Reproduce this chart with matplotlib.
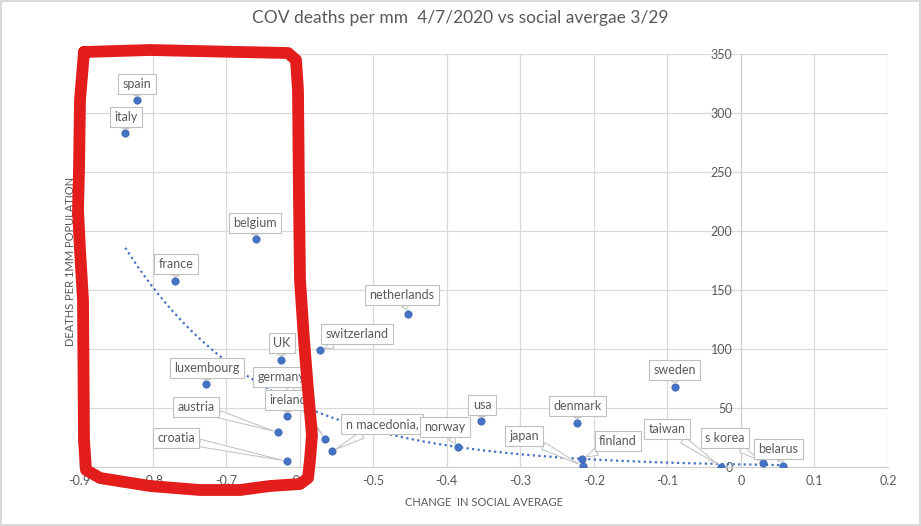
import numpy as np
import matplotlib.pyplot as plt
from matplotlib.lines import Line2D

plt.rcParams['font.family'] = ['Lato', 'DejaVu Sans']

# data
countries = ['spain', 'italy', 'belgium', 'france', 'UK', 'luxembourg', 'germany',
             'ireland', 'austria', 'croatia', 'switzerland', 'netherlands',
             'n macedonia,', 'norway', 'usa', 'denmark', 'japan', 'finland',
             'sweden', 'taiwan', 's korea', 'belarus']
social_change = [-0.821, -0.837, -0.660, -0.769, -0.625, -0.727, -0.565,
                 -0.617, -0.630, -0.617, -0.572, -0.453,
                 -0.556, -0.385, -0.353, -0.223, -0.215, -0.216,
                 -0.089, -0.027, 0.030, 0.057]
deaths_per_mm = [310.8, 282.8, 193.0, 157.6, 90.4, 70.0, 23.5,
                 43.0, 29.4, 4.8, 98.9, 129.9,
                 13.3, 16.9, 38.7, 37.5, 0.8, 6.8,
                 67.5, 0.3, 3.6, 0.6]

# exponential trendline y = a*exp(b*x), coefficients
trend_a = 2.2
trend_b = -5.3

# where each callout box sits (data coords)
label_pos = {
    'spain': (-0.821, 324.6), 'italy': (-0.836, 296.6), 'belgium': (-0.661, 206.8),
    'france': (-0.768, 172), 'UK': (-0.624, 105), 'luxembourg': (-0.726, 83.9),
    'germany': (-0.625, 76.3), 'ireland': (-0.616, 56.8), 'austria': (-0.741, 50.8),
    'croatia': (-0.768, 24.6), 'switzerland': (-0.522, 112.7),
    'netherlands': (-0.461, 145.8), 'n macedonia,': (-0.488, 36.4),
    'norway': (-0.403, 33.9), 'usa': (-0.352, 52.5), 'denmark': (-0.222, 51.7),
    'japan': (-0.295, 26.3), 'finland': (-0.167, 22), 'sweden': (-0.090, 82.2),
    'taiwan': (-0.100, 32.2), 's korea': (-0.022, 24.6), 'belarus': (0.051, 15.3),
}

W, H = 921, 526
fig = plt.figure(figsize=(W / 100, H / 100), dpi=100)
fig.patch.set_edgecolor('#d9d9d9')
fig.patch.set_linewidth(1.5)
ax = fig.add_axes([79 / W, 1 - 467 / H, (888 - 79) / W, (467 - 54) / H])

gray = '#595959'
ax.set_xlim(-0.9, 0.2)
ax.set_ylim(0, 350)
ax.set_xticks(np.arange(-0.9, 0.21, 0.1))
ax.set_xticklabels(['-0.9', '-0.8', '-0.7', '-0.6', '-0.5', '-0.4', '-0.3', '-0.2',
                    '-0.1', '0', '0.1', '0.2'])
ax.set_yticks(range(0, 351, 50))
ax.grid(True, color='#d9d9d9', lw=0.9)
ax.set_axisbelow(True)
for s in ['top', 'right']:
    ax.spines[s].set_visible(False)
ax.spines['left'].set_position(('data', 0))
ax.spines['left'].set_color('#d0d0d0')
ax.spines['bottom'].set_color('#d0d0d0')
ax.tick_params(length=0, labelsize=9, labelcolor=gray, pad=6)

xs = np.array(social_change)
xt = np.linspace(xs.min(), xs.max(), 200)
ax.plot(xt, trend_a * np.exp(trend_b * xt), ls=(0, (1, 1.5)), color='#4472c4', lw=1.6)

ax.scatter(social_change, deaths_per_mm, s=28, color='#4472c4', edgecolor='#3a64b0',
           lw=0.5, zorder=3)

for name, x, y in zip(countries, social_change, deaths_per_mm):
    lx, ly = label_pos[name]
    ax.annotate(name, xy=(x, y), xytext=(lx, ly), ha='center', va='center',
                fontsize=9, color=gray, zorder=4,
                bbox=dict(boxstyle='square,pad=0.35', fc='white', ec='#bfbfbf', lw=0.8),
                arrowprops=dict(arrowstyle='wedge,tail_width=0.6,shrink_factor=0.5',
                                fc='white', ec='#bfbfbf', lw=0.7, shrinkA=0, shrinkB=3))

fig.text(460 / W, 1 - 18 / H, 'COV deaths per mm  4/7/2020 vs social avergae 3/29',
         ha='center', va='center', fontsize=12.5, color=gray)
fig.text(484 / W, 1 - 503 / H, 'CHANGE  IN SOCIAL AVERAGE', ha='center', va='center',
         fontsize=8, color=gray)
fig.text(70 / W, 1 - 261 / H, 'DEATHS PER 1MM POPULATION', ha='center', va='center',
         rotation=90, fontsize=8, color=gray)

# red hand-drawn outline on top of the chart
px = [84, 150, 240, 288, 296, 298, 299, 300, 304, 308, 312, 310, 308, 300, 270, 240,
      200, 150, 100, 86, 84, 83, 80, 78, 79, 80, 84]
py = [52, 50, 52, 53, 60, 90, 200, 280, 340, 390, 435, 460, 478, 484, 486, 490,
      490, 486, 478, 470, 440, 300, 250, 210, 170, 100, 52]
fig.add_artist(Line2D(np.array(px) / W, 1 - np.array(py) / H, transform=fig.transFigure,
                      color='#e31c1c', lw=8.5, solid_joinstyle='round',
                      solid_capstyle='round', zorder=10))

fig.savefig('out.png', dpi=100)
